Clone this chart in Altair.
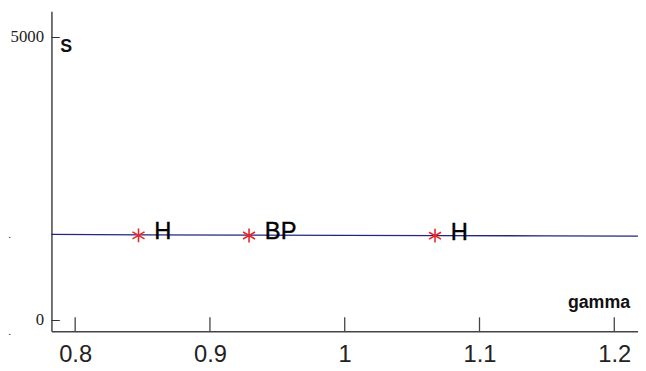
import altair as alt
import pandas as pd

# continuation branch
gamma_line = [0.7824, 0.85, 0.93, 1.0, 1.07, 1.15, 1.2176]
s_line = [1508, 1500, 1495, 1492, 1488, 1484, 1480]

# special points
pt_gamma = [0.847, 0.929, 1.067]
pt_s = [1492, 1490, 1487]
pt_label = ["H", "BP", "H"]

x_ticks = [0.8, 0.9, 1.0, 1.1, 1.2]
y_ticks = [0, 5000]

XDOM = [0.7824, 1.2176]
YDOM = [-200, 5450]
W, H = 594, 324

line_df = pd.DataFrame({"gamma": gamma_line, "s": s_line})
pt_df = pd.DataFrame({"gamma": pt_gamma, "s": pt_s, "label": pt_label})
xt_df = pd.DataFrame({"gamma": x_ticks})
yt_df = pd.DataFrame({"yv": [float(v) for v in y_ticks], "mark": ["–"] * len(y_ticks)})

xscale = alt.Scale(domain=XDOM, nice=False, zero=False)
yscale = alt.Scale(domain=YDOM, nice=False, zero=False)

label_expr = "datum.value == 1 ? '1' : format(datum.value, '.1f')"

line = alt.Chart(line_df).mark_line(color="#22287e", strokeWidth=1.3).encode(
    x=alt.X("gamma:Q", scale=xscale,
            axis=alt.Axis(values=x_ticks, title=None, ticks=False, grid=False,
                          domainColor="#444444", domainWidth=1.5,
                          labelFont="Liberation Sans", labelFontSize=24,
                          labelColor="#222222", labelPadding=12,
                          labelFlush=False, labelOverlap=False,
                          labelExpr=label_expr)),
    y=alt.Y("s:Q", scale=yscale,
            axis=alt.Axis(values=y_ticks, title=None, ticks=False, grid=False,
                          domainColor="#444444", domainWidth=1.5, format="d",
                          labelFont="Liberation Serif", labelFontSize=17,
                          labelColor="#222222", labelPadding=8,
                          labelFlush=False, labelOverlap=False)),
)

xticks = alt.Chart(xt_df).mark_rule(color="#444444", strokeWidth=1.3).encode(
    x=alt.X("gamma:Q", scale=xscale), y=alt.value(H), y2=alt.value(H - 14)
)

# inward y ticks drawn as short dashes
yticks = alt.Chart(yt_df).mark_text(
    align="left", baseline="middle", font="Liberation Sans", fontSize=15,
    color="#333333", dy=-1
).encode(x=alt.value(0), y=alt.Y("yv:Q", scale=yscale), text="mark:N")

star_path = "M0,-1L0,1M-0.87,-0.5L0.87,0.5M-0.87,0.5L0.87,-0.5"
points = alt.Chart(pt_df).mark_point(
    shape=star_path, size=196, filled=False, color="#e8262a", strokeWidth=1.6, opacity=1
).encode(x=alt.X("gamma:Q", scale=xscale), y=alt.Y("s:Q", scale=yscale))

labels = alt.Chart(pt_df).mark_text(
    align="left", baseline="alphabetic", dx=16, dy=4, font="Liberation Sans",
    fontSize=24, color="#000000", stroke="#000000", strokeWidth=0.4
).encode(x=alt.X("gamma:Q", scale=xscale), y=alt.Y("s:Q", scale=yscale), text="label:N")

s_title = alt.Chart(pd.DataFrame({"t": ["S"]})).mark_text(
    align="left", baseline="alphabetic", font="Liberation Sans", fontWeight="bold",
    fontSize=18, color="#111111"
).encode(x=alt.value(9), y=alt.value(41), text="t:N")

g_title = alt.Chart(pd.DataFrame({"t": ["gamma"]})).mark_text(
    align="right", baseline="alphabetic", font="Liberation Sans", fontWeight="bold",
    fontSize=18, color="#111111"
).encode(x=alt.value(586), y=alt.value(301), text="t:N")

dots = alt.Chart(pd.DataFrame({"t": [".", "."], "yy": [226, 324]})).mark_text(
    align="left", baseline="middle", font="Liberation Sans", fontSize=12, color="#333333"
).encode(x=alt.value(-44), y=alt.Y("yy:Q", scale=None), text="t:N")

chart = alt.layer(line, xticks, yticks, points, labels, s_title, g_title, dots).properties(
    width=W, height=H,
    autosize=alt.AutoSizeParams(type="none"),
    padding={"left": 44, "top": 1, "right": 0, "bottom": 36},
    background="white",
).configure_view(stroke=None)

chart.save("out.html", embed_options={"renderer": "svg", "actions": False})
